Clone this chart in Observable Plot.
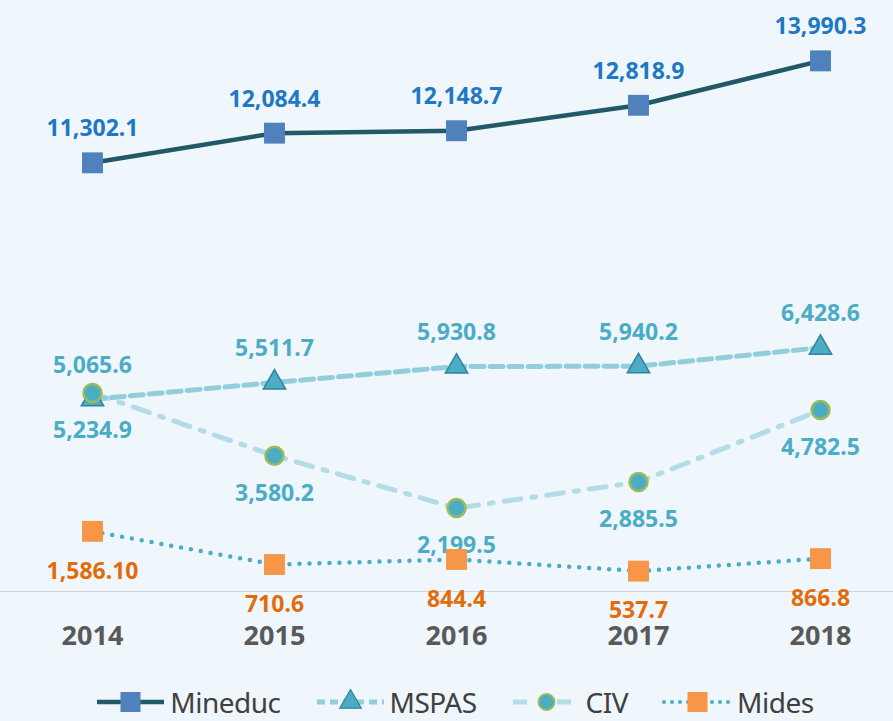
<!DOCTYPE html>
<html>
<head>
<meta charset="utf-8">
<script src="https://cdn.jsdelivr.net/npm/d3@7"></script>
<script src="https://cdn.jsdelivr.net/npm/@observablehq/plot@0.6"></script>
<style>
  html, body { margin: 0; padding: 0; background: #EFF6FC; }
  body { width: 893px; height: 721px; overflow: hidden; font-family: "Noto Sans", sans-serif; }
  #legend { display: flex; align-items: center; justify-content: center; height: 61px; padding-left: 16px; box-sizing: border-box; padding-top: 22px; }
  .item { display: flex; align-items: center; margin: 0 17px; }
  .item span { font-size: 28px; color: #404040; margin-left: 4px; letter-spacing: -0.5px; }
</style>
</head>
<body>
<div id="chart"></div>
<div id="legend"></div>
<script>
const years = [2014, 2015, 2016, 2017, 2018];
const mineduc = [11302.1, 12084.4, 12148.7, 12818.9, 13990.3];
const mspas = [5065.6, 5511.7, 5930.8, 5940.2, 6428.6];
const civ = [5234.9, 3580.2, 2199.5, 2885.5, 4782.5];
const mides = [1586.10, 710.6, 844.4, 537.7, 866.8];
const midesLabels = ["1,586.10", "710.6", "844.4", "537.7", "866.8"];
const seriesNames = ["Mineduc", "MSPAS", "CIV", "Mides"];

const fmt = d3.format(",.1f");
const rows = (vals, labels) => years.map((y, i) => ({year: y, value: vals[i], label: labels ? labels[i] : fmt(vals[i])}));
const dMineduc = rows(mineduc), dMspas = rows(mspas), dCiv = rows(civ), dMides = rows(mides, midesLabels);

const C = {
  mineducLine: "#215968", mineducMark: "#4F81BD", mineducText: "#1F78C4",
  mspasLine: "#92CDDC", tealMark: "#4BACC6", mspasStroke: "#31849B", tealText: "#4BACC6",
  civLine: "#B2DCE7", civStroke: "#9BBB59",
  midesLine: "#4BACC6", midesMark: "#F79646", midesText: "#E36C0A"
};

const labelFont = {fontSize: 23, fontWeight: "bold", fontFamily: "Noto Sans"};

const chart = Plot.plot({
  width: 893,
  height: 660,
  marginLeft: 92,
  marginRight: 73,
  marginTop: 60,
  marginBottom: 69,
  style: {background: "transparent", color: "#595959", fontFamily: "Noto Sans"},
  x: {type: "linear", domain: [2014, 2018], label: null},
  y: {domain: [0, 14000], axis: null},
  marks: [
    Plot.ruleY([0], {stroke: "#D0D4D8", strokeWidth: 1.2, insetLeft: -92, insetRight: -73}),
    Plot.axisX({ticks: years, tickFormat: d => String(d), tickSize: 0, tickPadding: 34, fontSize: 27, fontWeight: "bold", fill: "#595959", label: null}),
    // value labels
    Plot.text(dMineduc, {x: "year", y: "value", text: "label", dy: -34, fill: C.mineducText, ...labelFont}),
    Plot.text(dMspas, {x: "year", y: "value", text: "label", dy: -34, fill: C.tealText, ...labelFont}),
    Plot.text(dCiv, {x: "year", y: "value", text: "label", dy: 38, fill: C.tealText, ...labelFont}),
    Plot.text(dMides, {x: "year", y: "value", text: "label", dy: 40, fill: C.midesText, ...labelFont}),
    // lines
    Plot.line(dCiv, {x: "year", y: "value", stroke: C.civLine, strokeWidth: 5, strokeDasharray: "17,11,4,11"}),
    Plot.line(dMspas, {x: "year", y: "value", stroke: C.mspasLine, strokeWidth: 5, strokeDasharray: "13,6"}),
    Plot.line(dMides, {x: "year", y: "value", stroke: C.midesLine, strokeWidth: 4.5, strokeDasharray: "0,10", strokeLinecap: "round"}),
    Plot.line(dMineduc, {x: "year", y: "value", stroke: C.mineducLine, strokeWidth: 4.5}),
    // markers
    Plot.dot(dMspas, {x: "year", y: "value", symbol: "triangle", r: 8.3, fill: C.tealMark, stroke: C.mspasStroke, strokeWidth: 1.5}),
    Plot.dot(dCiv, {x: "year", y: "value", symbol: "circle", r: 9, fill: C.tealMark, stroke: C.civStroke, strokeWidth: 2.5}),
    Plot.dot(dMides, {x: "year", y: "value", symbol: "square", r: 11.8, fill: C.midesMark}),
    Plot.dot(dMineduc, {x: "year", y: "value", symbol: "square", r: 11.8, fill: C.mineducMark})
  ]
});
document.getElementById("chart").appendChild(chart);

// legend
const legendSpec = [
  {name: seriesNames[0], stroke: C.mineducLine, width: 4.5, dash: null, cap: "butt", symbol: d3.symbolSquare, size: 400, fill: C.mineducMark, mstroke: "none", msw: 0},
  {name: seriesNames[1], stroke: C.mspasLine, width: 5, dash: "8,5", cap: "butt", symbol: d3.symbolTriangle, size: 200, fill: C.tealMark, mstroke: C.mspasStroke, msw: 1.2},
  {name: seriesNames[2], stroke: C.civLine, width: 5, dash: "14,30", cap: "butt", symbol: d3.symbolCircle, size: 200, fill: C.tealMark, mstroke: C.civStroke, msw: 2},
  {name: seriesNames[3], stroke: C.midesLine, width: 4, dash: "0,8", cap: "round", symbol: d3.symbolSquare, size: 400, fill: C.midesMark, mstroke: "none", msw: 0}
];
const legend = d3.select("#legend");
for (const s of legendSpec) {
  const item = legend.append("div").attr("class", "item");
  const svg = item.append("svg").attr("width", 71).attr("height", 30);
  svg.append("line").attr("x1", 2).attr("x2", 69).attr("y1", 15).attr("y2", 15)
    .attr("stroke", s.stroke).attr("stroke-width", s.width)
    .attr("stroke-dasharray", s.dash).attr("stroke-linecap", s.cap);
  svg.append("path").attr("d", d3.symbol(s.symbol, s.size)()).attr("transform", "translate(35.5,15)")
    .attr("fill", s.fill).attr("stroke", s.mstroke).attr("stroke-width", s.msw);
  item.append("span").text(s.name);
}
</script>
</body>
</html>
